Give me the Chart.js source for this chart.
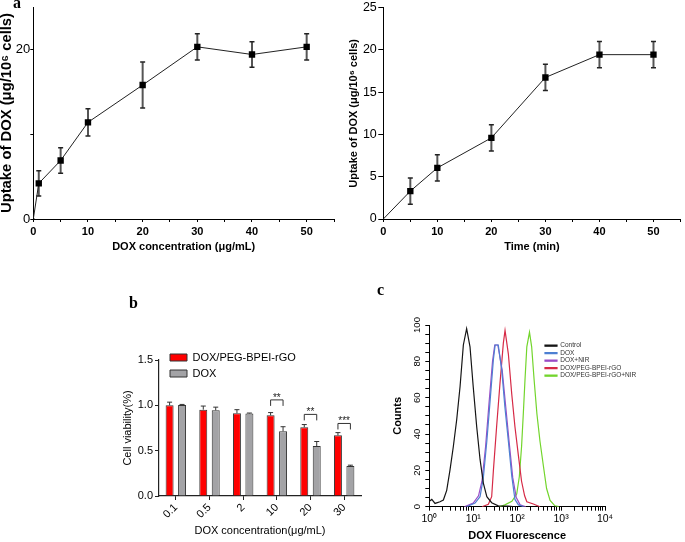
<!DOCTYPE html>
<html>
<head>
<meta charset="utf-8">
<script src="https://cdn.jsdelivr.net/npm/chart.js@4.4.0/dist/chart.umd.min.js"></script>
<style>
  body { margin: 0; background: #fff; }
  #wrap { position: relative; width: 685px; height: 542px; overflow: hidden; background: #fff; }
  canvas { position: absolute; }
  .lbl { position: absolute; font: bold 16px 'Liberation Serif', 'Times New Roman', serif; line-height: 1; color: #000; }
</style>
</head>
<body>
<div id="wrap">
  <canvas id="cA1" width="340" height="258" style="left:0;top:0"></canvas>
  <canvas id="cA2" width="345" height="258" style="left:340px;top:0"></canvas>
  <canvas id="cB" width="280" height="262" style="left:90px;top:280px"></canvas>
  <canvas id="cC" width="315" height="262" style="left:370px;top:280px"></canvas>
  <div class="lbl" style="left:13px;top:-5px">a</div>
  <div class="lbl" style="left:129px;top:295px">b</div>
  <div class="lbl" style="left:377px;top:282px">c</div>
</div>
<script>
// panel a (left): uptake vs DOX concentration
var concX = [0, 1, 5, 10, 20, 30, 40, 50];
var concUptake = [0, 4.2, 6.9, 11.4, 15.8, 20.3, 19.4, 20.3];
var concErr = [0, 1.5, 1.5, 1.6, 2.7, 1.55, 1.5, 1.55];

// panel a (right): uptake vs time
var timeX = [0, 5, 10, 20, 30, 40, 50];
var timeUptake = [0, 3.3, 6.05, 9.6, 16.75, 19.45, 19.45];
var timeErr = [0, 1.55, 1.55, 1.55, 1.55, 1.55, 1.55];

// panel b: cell viability
var viabCats = ['0.1', '0.5', '2', '10', '20', '30'];
var viabComplex = [1.0, 0.952, 0.912, 0.89, 0.758, 0.669];
var viabComplexErr = [0.035, 0.04, 0.04, 0.03, 0.03, 0.03];
var viabDox = [1.005, 0.945, 0.91, 0.714, 0.551, 0.33];
var viabDoxErr = [0.005, 0.035, 0.005, 0.05, 0.05, 0.01];
var sigCats = [3, 4, 5];
var sigMarks = ['**', '**', '***'];
var sigLevel = [1.06, 0.90, 0.80];

// panel c: flow cytometry histograms
var ctrlFl = [1.0, 1.14, 1.35, 1.75, 2.09, 2.49, 2.95, 3.52, 4.21, 5.01, 5.96, 7.08, 8.45, 10.0, 12.0, 14.3, 17.0, 20.4, 26.3, 37.2, 63, 80];
var ctrlCount = [3, 4, 1.8, 2.7, 3.7, 9, 20, 33, 48, 66, 89, 98, 88, 66, 44, 26, 13, 5.5, 2.2, 0.5, 0.3, 0];
var doxFl = [7.08, 11.0, 14.3, 17.0, 20.4, 24.0, 28.8, 31.6, 37.2, 44.7, 52.5, 63.1, 75.3, 89.1, 107, 141];
var doxCount = [0, 2, 5.5, 16, 36, 57, 81, 89, 89, 75, 55, 36, 17, 4, 1, 0];
var nirFl = [6.3, 10, 13.2, 15.8, 19.1, 22.9, 27.5, 30.9, 36.3, 45.7, 55.0, 66.1, 79.4, 95.5, 117, 158];
var nirCount = [0, 2, 6, 14, 33, 57, 80, 89, 89, 75, 55, 35, 16, 5, 1, 0];
var rgoFl = [15.8, 22.1, 26.3, 28.8, 34.3, 40.7, 48.5, 53.0, 63.1, 75.3, 89.1, 107, 126, 148, 166, 234, 331];
var rgoCount = [0, 1.3, 5.5, 20, 45, 68, 90, 97, 84, 62, 44, 28, 14, 6, 2.7, 1.5, 0];
var rgoNirFl = [39.8, 52.5, 75.9, 97.7, 112, 126, 138, 151, 166, 191, 214, 243, 282, 331, 398, 468, 562, 724, 891];
var rgoNirCount = [0, 1, 3, 7, 16.5, 33, 51, 70, 88, 96, 88, 70, 51, 36, 22, 10, 3.5, 0.5, 0];
var flTickVals = [1, 10, 100, 1000, 10000];
var flTickText = ['10\u2070', '10\u00b9', '10\u00b2', '10\u00b3', '10\u2074'];

Chart.defaults.font.family = "'Liberation Sans', Arial, sans-serif";
Chart.defaults.color = '#000';

function pts(xs, ys) {
  return xs.map(function(x, i) { return {x: x, y: ys[i]}; });
}

// error bars, both directions, for the uptake curves
var errorBars = {
  id: 'errorBars',
  beforeDatasetsDraw: function(chart) {
    var ctx = chart.ctx, ys = chart.scales.y;
    chart.data.datasets.forEach(function(ds, d) {
      if (!ds.errors) return;
      var meta = chart.getDatasetMeta(d);
      meta.data.forEach(function(pt, i) {
        var e = ds.errors[i];
        if (!e) return;
        var v = ds.data[i].y;
        var y1 = ys.getPixelForValue(v - e), y2 = ys.getPixelForValue(v + e);
        ctx.save();
        ctx.strokeStyle = '#555'; ctx.lineWidth = 2;
        ctx.beginPath(); ctx.moveTo(pt.x, y1); ctx.lineTo(pt.x, y2); ctx.stroke();
        ctx.strokeStyle = '#222'; ctx.lineWidth = 1.5;
        ctx.beginPath();
        ctx.moveTo(pt.x - 2.5, y1); ctx.lineTo(pt.x + 2.5, y1);
        ctx.moveTo(pt.x - 2.5, y2); ctx.lineTo(pt.x + 2.5, y2);
        ctx.stroke();
        ctx.restore();
      });
    });
  }
};

// upward error bars on the viability bars
var barErrors = {
  id: 'barErrors',
  afterDatasetsDraw: function(chart) {
    var ctx = chart.ctx, ys = chart.scales.y;
    chart.data.datasets.forEach(function(ds, d) {
      var meta = chart.getDatasetMeta(d);
      meta.data.forEach(function(bar, i) {
        var top = ys.getPixelForValue(ds.data[i]);
        var end = ys.getPixelForValue(ds.data[i] + ds.errors[i]);
        ctx.save();
        ctx.strokeStyle = '#333'; ctx.lineWidth = 1;
        ctx.beginPath();
        ctx.moveTo(bar.x, top); ctx.lineTo(bar.x, end);
        ctx.moveTo(bar.x - 2.5, end); ctx.lineTo(bar.x + 2.5, end);
        ctx.stroke();
        ctx.restore();
      });
    });
  }
};

// significance brackets
var brackets = {
  id: 'brackets',
  afterDatasetsDraw: function(chart) {
    var ctx = chart.ctx, ys = chart.scales.y;
    var m0 = chart.getDatasetMeta(0), m1 = chart.getDatasetMeta(1);
    ctx.save();
    ctx.strokeStyle = '#333'; ctx.lineWidth = 1;
    ctx.fillStyle = '#222';
    ctx.font = "10px 'Liberation Sans', Arial, sans-serif";
    ctx.textAlign = 'center'; ctx.textBaseline = 'alphabetic';
    sigCats.forEach(function(c, k) {
      var xa = m0.data[c].x, xb = m1.data[c].x;
      var y = ys.getPixelForValue(sigLevel[k]);
      ctx.beginPath();
      ctx.moveTo(xa, y + 6); ctx.lineTo(xa, y); ctx.lineTo(xb, y); ctx.lineTo(xb, y + 6);
      ctx.stroke();
      ctx.fillText(sigMarks[k], (xa + xb) / 2, y + 1);
    });
    ctx.restore();
  }
};

// put a chartArea legend where the figure has it
var legendShift = {
  id: 'legendShift',
  afterLayout: function(chart, args, opts) {
    var lg = chart.legend, ca = chart.chartArea;
    if (!lg) return;
    var w = lg.width, h = lg.height;
    lg.left = ca.left + opts.dx; lg.right = lg.left + w;
    lg.top = ca.top + opts.dy; lg.bottom = lg.top + h;
  }
};

function uptakeChart(id, xs, ys, errs, cfg) {
  return new Chart(document.getElementById(id), {
    type: 'scatter',
    data: {
      datasets: [{
        data: pts(xs, ys),
        errors: errs,
        showLine: true,
        borderColor: '#222',
        borderWidth: 1,
        pointStyle: 'rect',
        pointRadius: cfg.radii,
        pointBackgroundColor: '#000',
        pointBorderWidth: 0
      }]
    },
    options: {
      responsive: false,
      animation: false,
      layout: { padding: { left: 0, right: cfg.padRight, top: 7, bottom: 0 } },
      plugins: { legend: { display: false }, tooltip: { enabled: false } },
      scales: {
        x: {
          type: 'linear', min: 0, max: 55,
          border: { color: '#000', width: 1 },
          grid: { drawOnChartArea: false, tickLength: 3, color: '#000' },
          ticks: {
            stepSize: 5, padding: 3.5, maxRotation: 0,
            font: { size: 11, weight: 'bold' },
            callback: function(v) { return v % 10 === 0 ? String(v) : ''; }
          },
          title: { display: true, text: cfg.xTitle, font: { size: 11, weight: 'bold' }, padding: { top: 0, bottom: 4 } },
          afterFit: function(s) { s.height = 39; }
        },
        y: {
          min: 0, max: 25,
          border: { color: '#000', width: 1 },
          grid: { drawOnChartArea: false, tickLength: cfg.yTick, color: '#000' },
          ticks: {
            stepSize: cfg.yStep, includeBounds: false, padding: cfg.yPad,
            font: { size: cfg.yFont, lineHeight: 1 },
            callback: cfg.yLabel
          },
          title: { display: true, text: 'Uptake of DOX (\u03bcg/10\u2076 cells)', font: { size: cfg.yTitleSize, weight: 'bold', lineHeight: cfg.yTitleLH }, padding: { top: cfg.yTitlePad, bottom: 0 } },
          afterFit: function(s) { s.width = cfg.yWidth; }
        }
      }
    },
    plugins: [errorBars]
  });
}

uptakeChart('cA1', concX, concUptake, concErr, {
  radii: [1.5, 4.5, 4.5, 4.5, 4.5, 4.5, 4.5, 4.5],
  padRight: 6, xTitle: 'DOX concentration (\u03bcg/mL)',
  yTick: 3, yStep: 10, yPad: 0, yFont: 13,
  yLabel: function(v) { return v === 10 ? '' : String(v); },
  yTitleSize: 14.8, yTitleLH: 1, yTitlePad: 0, yWidth: 33.3
});

uptakeChart('cA2', timeX, timeUptake, timeErr, {
  radii: [0, 4.5, 4.5, 4.5, 4.5, 4.5, 4.5],
  padRight: 2, xTitle: 'Time (min)',
  yTick: 5, yStep: 5, yPad: 1.5, yFont: 12.5,
  yLabel: function(v) { return String(v); },
  yTitleSize: 11, yTitleLH: 1.2, yTitlePad: 7, yWidth: 43.3
});

new Chart(document.getElementById('cB'), {
  type: 'bar',
  data: {
    labels: viabCats,
    datasets: [
      { label: 'DOX/PEG-BPEI-rGO', data: viabComplex, errors: viabComplexErr, backgroundColor: '#ff0000', borderColor: '#333', borderWidth: 1 },
      { label: 'DOX', data: viabDox, errors: viabDoxErr, backgroundColor: '#a3a3a6', borderColor: '#333', borderWidth: 1 }
    ]
  },
  options: {
    responsive: false,
    animation: false,
    datasets: { bar: { categoryPercentage: 0.74, barPercentage: 0.64 } },
    layout: { padding: { left: 30, right: 9, top: 80, bottom: 0 } },
    plugins: {
      tooltip: { enabled: false },
      legend: {
        position: 'chartArea', align: 'start',
        labels: { boxWidth: 17, boxHeight: 7, padding: 5, color: '#000', font: { size: 11 } }
      },
      legendShift: { dx: 6, dy: -13 }
    },
    scales: {
      x: {
        border: { color: '#222', width: 1.2 },
        grid: { drawOnChartArea: false, offset: false, tickLength: 4, color: '#222' },
        ticks: { minRotation: 45, maxRotation: 45, padding: 1, font: { size: 11 } },
        title: { display: true, text: 'DOX concentration(\u03bcg/mL)', font: { size: 11 }, padding: { top: 0, bottom: 4 } },
        afterFit: function(s) { s.height = 46; }
      },
      y: {
        min: 0, max: 1.5,
        border: { color: '#222', width: 1.2 },
        grid: { drawOnChartArea: false, tickLength: 4, color: '#222' },
        ticks: { stepSize: 0.5, padding: 2, font: { size: 11 }, callback: function(v) { return v.toFixed(1); } },
        title: { display: true, text: 'Cell viability(%)', font: { size: 11 }, padding: { top: 1, bottom: 0 } },
        afterFit: function(s) { s.width = 39; }
      }
    }
  },
  plugins: [barErrors, brackets, legendShift]
});

function histSet(label, xs, ys, color) {
  return {
    label: label, data: pts(xs, ys), showLine: true,
    borderColor: color, backgroundColor: color, borderWidth: 1.2,
    pointRadius: 0, tension: 0
  };
}

new Chart(document.getElementById('cC'), {
  type: 'scatter',
  data: {
    datasets: [
      histSet('Control', ctrlFl, ctrlCount, '#151515'),
      histSet('DOX', doxFl, doxCount, '#4d7fd2'),
      histSet('DOX+NIR', nirFl, nirCount, '#9a4cc6'),
      histSet('DOX/PEG-BPEI-rGO', rgoFl, rgoCount, '#d62a46'),
      histSet('DOX/PEG-BPEI-rGO+NIR', rgoNirFl, rgoNirCount, '#72d52c')
    ]
  },
  options: {
    responsive: false,
    animation: false,
    layout: { padding: { left: 20, right: 80, top: 45, bottom: 0 } },
    plugins: {
      tooltip: { enabled: false },
      legend: {
        position: 'chartArea', align: 'start',
        labels: { boxWidth: 12, boxHeight: 1, padding: 1, color: '#333', font: { size: 6.5 } }
      },
      legendShift: { dx: 114.7, dy: 16.4 }
    },
    scales: {
      x: {
        type: 'logarithmic', min: 1, max: 10000,
        border: { color: '#000', width: 1 },
        grid: { drawOnChartArea: false, tickLength: 4, color: '#000' },
        afterBuildTicks: function(axis) {
          var t = [];
          for (var d = 1; d < 10000; d *= 10) {
            for (var m = 1; m < 10; m++) t.push({ value: m * d });
          }
          t.push({ value: 10000 });
          axis.ticks = t;
        },
        ticks: {
          autoSkip: false, maxRotation: 0, padding: 2, font: { size: 10.5 },
          callback: function(v) {
            var k = flTickVals.indexOf(v);
            return k < 0 ? '' : flTickText[k];
          }
        },
        title: { display: true, text: 'DOX Fluorescence', font: { size: 11, weight: 'bold', lineHeight: 1 }, padding: { top: 0, bottom: 0.5 } },
        afterFit: function(s) { s.height = 35.3; }
      },
      y: {
        min: 0, max: 100,
        border: { color: '#000', width: 1 },
        grid: { drawOnChartArea: false, tickLength: 4, color: '#000' },
        ticks: {
          stepSize: 5, autoSkip: false, minRotation: 90, maxRotation: 90, crossAlign: 'center', padding: 0,
          font: { size: 9.5 },
          callback: function(v) { return v % 20 === 0 ? String(v) : ''; }
        },
        title: { display: true, text: 'Counts', font: { size: 11, weight: 'bold' }, padding: { top: 1.4, bottom: 0 } },
        afterFit: function(s) { s.width = 39.3; }
      }
    }
  },
  plugins: [legendShift]
});
</script>
</body>
</html>
